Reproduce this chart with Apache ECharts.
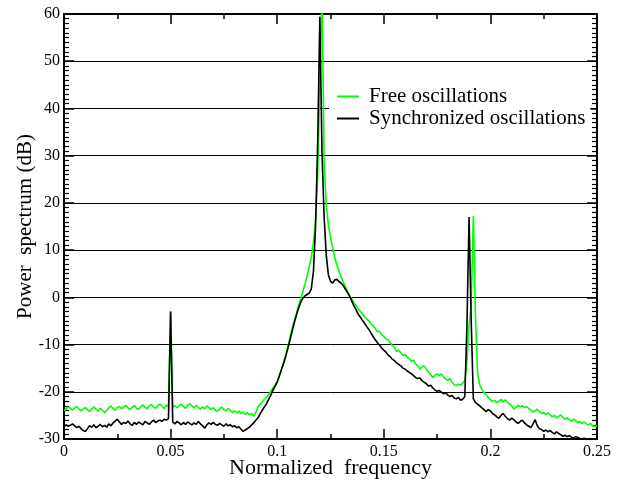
<!DOCTYPE html>
<html>
<head>
<meta charset="utf-8">
<script src="https://cdn.jsdelivr.net/npm/echarts@6/dist/echarts.min.js"></script>
<style>
  html, body { margin: 0; padding: 0; background: #fff; }
  #chart { width: 626px; height: 482px; }
</style>
</head>
<body>
<div id="chart"></div>
<script>
// normalized frequency bins (shared by both spectra)
const freq = [
  0.000, 0.001, 0.002, 0.003, 0.004, 0.005, 0.006, 0.007, 0.008, 0.009,
  0.010, 0.011, 0.012, 0.013, 0.014, 0.015, 0.016, 0.017, 0.018, 0.019,
  0.020, 0.021, 0.022, 0.023, 0.024, 0.025, 0.026, 0.027, 0.028, 0.029,
  0.030, 0.031, 0.032, 0.033, 0.034, 0.035, 0.036, 0.037, 0.038, 0.039,
  0.040, 0.041, 0.042, 0.043, 0.044, 0.045, 0.046, 0.047, 0.048, 0.049,
  0.050, 0.051, 0.052, 0.053, 0.054, 0.055, 0.056, 0.057, 0.058, 0.059,
  0.060, 0.061, 0.062, 0.063, 0.064, 0.065, 0.066, 0.067, 0.068, 0.069,
  0.070, 0.071, 0.072, 0.073, 0.074, 0.075, 0.076, 0.077, 0.078, 0.079,
  0.080, 0.081, 0.082, 0.083, 0.084, 0.085, 0.086, 0.087, 0.088, 0.089,
  0.090, 0.091, 0.092, 0.093, 0.094, 0.095, 0.096, 0.097, 0.098, 0.099,
  0.100, 0.101, 0.102, 0.103, 0.104, 0.105, 0.106, 0.107, 0.108, 0.109,
  0.110, 0.111, 0.112, 0.113, 0.114, 0.115, 0.116, 0.117, 0.118, 0.119,
  0.120, 0.121, 0.122, 0.123, 0.124, 0.125, 0.126, 0.127, 0.128, 0.129,
  0.130, 0.131, 0.132, 0.133, 0.134, 0.135, 0.136, 0.137, 0.138, 0.139,
  0.140, 0.141, 0.142, 0.143, 0.144, 0.145, 0.146, 0.147, 0.148, 0.149,
  0.150, 0.151, 0.152, 0.153, 0.154, 0.155, 0.156, 0.157, 0.158, 0.159,
  0.160, 0.161, 0.162, 0.163, 0.164, 0.165, 0.166, 0.167, 0.168, 0.169,
  0.170, 0.171, 0.172, 0.173, 0.174, 0.175, 0.176, 0.177, 0.178, 0.179,
  0.180, 0.181, 0.182, 0.183, 0.184, 0.185, 0.186, 0.187, 0.188, 0.189,
  0.190, 0.191, 0.192, 0.193, 0.194, 0.195, 0.196, 0.197, 0.198, 0.199,
  0.200, 0.201, 0.202, 0.203, 0.204, 0.205, 0.206, 0.207, 0.208, 0.209,
  0.210, 0.211, 0.212, 0.213, 0.214, 0.215, 0.216, 0.217, 0.218, 0.219,
  0.220, 0.221, 0.222, 0.223, 0.224, 0.225, 0.226, 0.227, 0.228, 0.229,
  0.230, 0.231, 0.232, 0.233, 0.234, 0.235, 0.236, 0.237, 0.238, 0.239,
  0.240, 0.241, 0.242, 0.243, 0.244, 0.245, 0.246, 0.247, 0.248, 0.249,
  0.250
];

// power spectrum (dB), free oscillations (green)
const freeOsc = [
  -24.0, -23.6, -23.2, -23.5, -23.9, -23.4, -23.1, -23.6, -24.0, -23.7,
  -23.3, -23.8, -24.2, -23.6, -23.2, -23.7, -24.1, -23.5, -23.9, -24.4,
  -24.0, -23.4, -23.0, -23.5, -23.9, -23.3, -23.1, -23.6, -23.2, -22.9,
  -23.4, -23.8, -23.3, -22.9, -23.5, -23.7, -23.1, -22.8, -23.3, -23.6,
  -23.0, -22.7, -23.2, -23.5, -22.9, -22.6, -23.1, -23.6, -22.8, -23.2,
  -3.0, -23.3, -22.9, -23.4, -23.0, -22.6, -23.1, -23.5, -22.8, -22.5,
  -23.0, -23.4, -22.9, -23.3, -23.7, -23.2, -23.6, -23.0, -23.4, -23.8,
  -23.3, -23.9, -24.2, -23.6, -23.2, -23.8, -24.1, -23.5, -23.9, -24.4,
  -24.0, -24.5, -24.1, -24.6, -24.3, -24.8, -24.4, -24.9, -24.6, -25.2,
  -24.3, -23.2, -22.6, -22.2, -21.6, -21.1, -20.6, -19.9, -19.2, -18.6,
  -18.0, -16.8, -15.3, -13.8, -12.2, -10.4, -8.5, -6.6, -5.0, -3.4,
  -1.8, -0.4, 1.2, 2.8, 4.6, 6.4, 8.6, 11.5, 16.5, 26.0,
  45.0, 66.0, 29.0, 19.5, 15.5, 12.6, 10.5, 8.4, 6.9, 5.5,
  4.3, 3.2, 2.3, 1.2, 0.3, -0.4, -1.2, -1.7, -2.5, -3.0,
  -3.5, -4.1, -4.6, -5.0, -5.6, -6.1, -6.6, -7.3, -7.2, -7.9,
  -8.3, -8.8, -9.0, -9.6, -10.2, -10.6, -11.5, -11.2, -11.8, -12.3,
  -12.1, -12.7, -13.0, -13.6, -13.3, -14.1, -14.6, -15.2, -14.7, -14.5,
  -15.3, -15.8, -16.4, -17.0, -16.5, -16.2, -16.6, -16.2, -16.9, -17.3,
  -17.6, -17.2, -17.9, -18.5, -18.7, -18.4, -18.6, -18.2, -17.6, -13.5,
  -6.0, -1.5, 17.2, -4.0, -16.0, -18.6, -19.5, -20.2, -20.6, -21.2,
  -21.7, -22.1, -21.8, -22.3, -22.0, -21.6, -22.2, -21.7, -22.3, -22.6,
  -23.0, -23.7, -23.3, -22.8, -23.2, -22.9, -23.4, -23.1, -23.6, -23.9,
  -24.3, -24.0, -23.7, -24.2, -24.6, -24.4, -24.8, -24.5, -24.9, -25.3,
  -25.0, -25.5, -25.2, -24.9, -25.4, -25.8, -25.5, -25.9, -26.2, -25.8,
  -26.1, -26.5, -26.3, -26.7, -26.4, -26.8, -27.0, -26.7, -27.2, -27.4,
  -27.1
];

// power spectrum (dB), synchronized oscillations (black)
const syncOsc = [
  -27.4, -27.0, -27.3, -27.1, -26.8, -27.2, -27.6, -27.3, -27.8, -28.2,
  -28.4, -27.8, -27.2, -27.5, -27.0, -27.6, -27.3, -26.9, -27.4, -27.1,
  -27.5, -26.8, -27.2, -26.6, -26.2, -25.8, -26.4, -26.9, -26.5, -26.7,
  -26.2, -26.8, -27.1, -26.5, -26.9, -26.4, -26.7, -27.0, -26.3, -26.6,
  -26.9, -26.4, -26.0, -26.5, -26.2, -26.0, -26.3, -25.8, -26.0, -25.7,
  -3.0, -26.4, -26.8, -26.3, -26.6, -27.0, -26.5, -26.9, -26.4, -26.7,
  -27.0, -26.6, -26.9, -26.3, -26.8, -27.2, -27.7, -27.0, -26.6, -26.9,
  -26.5, -26.9, -27.1, -26.7, -27.0, -27.3, -26.8, -27.2, -27.0, -27.4,
  -27.2, -27.6, -27.4, -27.9, -28.4, -28.1, -27.8, -27.5, -27.0, -26.6,
  -26.0, -25.5, -24.7, -23.9, -23.2, -22.5, -21.6, -20.7, -19.7, -18.8,
  -17.9, -16.6, -15.3, -14.0, -12.5, -10.8, -9.0, -7.2, -5.4, -3.8,
  -2.3, -1.1, -0.2, 0.3, 0.6, 0.9, 1.8, 5.5, 15.0, 33.0,
  59.4, 31.0, 17.0, 9.0, 4.8, 3.4, 3.0, 3.7, 3.8, 3.3,
  3.0, 2.5, 1.7, 1.0, 0.2, -0.8, -1.8, -2.6, -3.6, -4.2,
  -4.9, -5.5, -6.2, -6.8, -7.6, -8.3, -9.0, -9.6, -10.1, -10.7,
  -11.2, -11.6, -12.2, -12.6, -13.1, -13.4, -13.9, -14.2, -14.5, -15.0,
  -15.2, -15.6, -15.9, -16.2, -16.6, -17.0, -17.2, -17.1, -17.7, -18.0,
  -18.3, -18.8, -18.6, -19.2, -19.6, -19.9, -19.7, -20.1, -20.4, -20.2,
  -20.7, -21.0, -20.8, -21.3, -21.5, -21.2, -21.8, -21.6, -21.0, -6.0,
  17.0, -5.0, -21.5, -22.3, -22.6, -23.0, -23.4, -23.8, -24.2, -23.8,
  -24.0, -24.6, -24.9, -25.3, -25.6, -25.0, -24.6, -25.2, -25.7, -26.0,
  -25.6, -25.9, -26.4, -26.7, -26.3, -26.0, -26.6, -27.0, -27.3, -27.6,
  -26.8, -25.9, -27.2, -27.8, -28.0, -28.4, -28.1, -28.5, -28.2, -28.6,
  -28.9, -28.5, -28.8, -29.1, -29.4, -29.2, -29.5, -29.3, -29.6, -29.8,
  -29.5, -29.7, -29.9, -30.1, -29.8, -30.2, -30.4, -30.1, -30.5, -30.3,
  -30.6
];

const seriesNames = ["Free oscillations", "Synchronized oscillations"];
const seriesColors = ["#00ff00", "#000000"];

const font = "Liberation Serif";

function xAxisCfg(position, withLabels) {
  return {
    type: "value",
    position: position,
    min: 0,
    max: 0.25,
    interval: 0.05,
    name: withLabels ? "Normalized  frequency" : "",
    nameLocation: "middle",
    nameGap: 18,
    nameMoveOverlap: false,
    nameTextStyle: { fontFamily: font, fontSize: 22, color: "#000" },
    axisLine: { show: true, onZero: false, lineStyle: { color: "#000", width: 2 } },
    axisTick: { show: true, inside: true, length: 10, lineStyle: { color: "#000", width: 1.5 } },
    minorTick: { show: true, splitNumber: 2, length: 5, lineStyle: { color: "#000", width: 1.5 } },
    splitLine: { show: false },
    axisLabel: {
      show: withLabels,
      margin: 5,
      fontFamily: font,
      fontSize: 16,
      color: "#000",
      formatter: (v) => String(+v.toFixed(2))
    }
  };
}

function yAxisCfg(position, withLabels) {
  return {
    type: "value",
    position: position,
    min: -30,
    max: 60,
    interval: 10,
    name: withLabels ? "Power  spectrum (dB)" : "",
    nameLocation: "middle",
    nameGap: 28,
    nameMoveOverlap: false,
    nameTextStyle: { fontFamily: font, fontSize: 21, color: "#000" },
    axisLine: { show: true, onZero: false, lineStyle: { color: "#000", width: 2 } },
    axisTick: { show: true, inside: true, length: 10, lineStyle: { color: "#000", width: 1.5 } },
    minorTick: { show: true, splitNumber: 10, length: 5, lineStyle: { color: "#000", width: 1.2 } },
    splitLine: { show: withLabels, lineStyle: { color: "#000", width: 1 } },
    axisLabel: {
      show: withLabels,
      margin: 4,
      fontFamily: font,
      fontSize: 16,
      color: "#000"
    }
  };
}

const chart = echarts.init(document.getElementById("chart"), null, { renderer: "canvas" });

chart.setOption({
  animation: false,
  backgroundColor: "#fff",
  grid: { left: 64, top: 14, right: 29, bottom: 43, containLabel: false, outerBoundsMode: "none" },
  xAxis: [xAxisCfg("bottom", true), xAxisCfg("top", false)],
  yAxis: [yAxisCfg("left", true), yAxisCfg("right", false)],
  legend: {
    data: seriesNames,
    orient: "vertical",
    left: 329,
    top: 84,
    icon: "rect",
    itemWidth: 22,
    itemHeight: 2,
    itemGap: 1,
    backgroundColor: "#fff",
    padding: [2, 5, 4, 8],
    textStyle: { fontFamily: font, fontSize: 21, lineHeight: 20, color: "#000", padding: [0, 0, 0, 5] }
  },
  series: seriesNames.map((name, k) => ({
    name: name,
    type: "line",
    xAxisIndex: 0,
    yAxisIndex: 0,
    data: freq.map((f, i) => [f, (k === 0 ? freeOsc : syncOsc)[i]]),
    showSymbol: false,
    symbol: "none",
    color: seriesColors[k],
    lineStyle: { width: 1.6, color: seriesColors[k] },
    clip: true,
    z: 2 + k
  }))
});
</script>
</body>
</html>
